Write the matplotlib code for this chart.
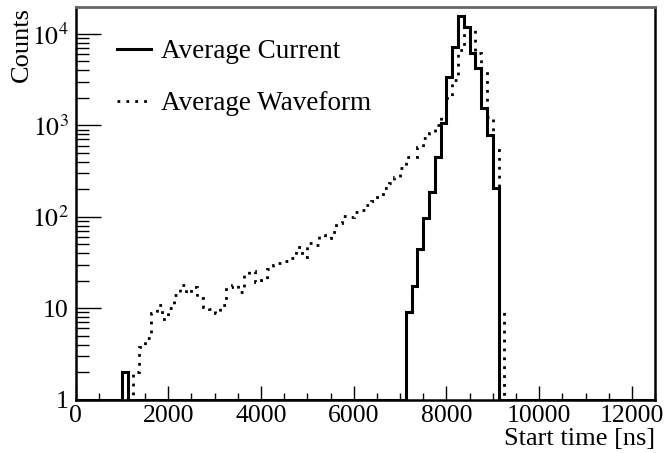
import numpy as np
import matplotlib
matplotlib.use('Agg')
import matplotlib.pyplot as plt
from matplotlib.ticker import FixedLocator, FixedFormatter, MultipleLocator

plt.rcParams['font.family'] = ['Liberation Serif', 'DejaVu Serif']
plt.rcParams['mathtext.fontset'] = 'stix'

# ── Histogram binning: 100 bins of 125 ns from 0 to 12500 ns ──────────
bin_width = 125
n_bins = 100

# ── Average Current (non-empty bins, lower edge in ns) ────────────────
current_t = [1000, 7125, 7250, 7375, 7500, 7625, 7750, 7875, 8000, 8125,
             8250, 8375, 8500, 8625, 8750, 8875, 9000]
current_n = [2, 9, 17.5, 44, 96, 188, 454, 1067, 3350, 7240,
             15700, 12000, 6130, 4200, 1535, 783, 204]

# ── Average Waveform (non-empty bins, lower edge in ns) ───────────────
wave_t = [1250, 1375, 1500, 1625, 1750, 1875, 2000, 2125, 2250, 2375,
          2500, 2625, 2750, 2875, 3000, 3125, 3250, 3375, 3500, 3625,
          3750, 3875, 4000, 4125, 4250, 4375, 4500, 4625, 4750, 4875,
          5000, 5125, 5250, 5375, 5500, 5625, 5750, 5875, 6000, 6125,
          6250, 6375, 6500, 6625, 6750, 6875, 7000, 7125, 7250, 7375,
          7500, 7625, 7750, 7875, 8000, 8125, 8250, 8375, 8500, 8625,
          8750, 8875, 9000, 9125]
wave_n = [2, 3.8, 4.7, 8.8, 10.8, 7.7, 10, 13.9, 17.9, 14.7,
          17.1, 12.8, 10.4, 9.7, 8.8, 10.8, 17, 17.9, 15, 23,
          25.7, 19.4, 20.3, 26.6, 29.6, 30.9, 32.7, 35, 47, 36.5,
          51, 49, 63, 58, 68.5, 86, 103, 100, 113, 120,
          135, 150, 166, 205, 232, 274, 339, 447, 454, 583,
          721, 817, 1007, 1297, 2000, 3130, 6650, 10500, 11000, 6130,
          4030, 1242, 537, 9]

xticks = [0, 2000, 4000, 6000, 8000, 10000, 12000]
yticks = [1, 10, 100, 1000, 10000]
ytick_labels = ['1', '10', r'$10^{2}$', r'$10^{3}$', r'$10^{4}$']

edges = np.arange(n_bins + 1) * bin_width
y_min, y_max = 1, 1.97e4


def fill(ts, ns):
    counts = np.zeros(n_bins)
    counts[(np.array(ts) // bin_width).astype(int)] = ns
    # empty bins sit on the bottom of the log axis, like ROOT draws them
    return np.where(counts > 0, counts, y_min)


current = fill(current_t, current_n)
wave = fill(wave_t, wave_n)

fig = plt.figure(figsize=(6.67, 4.53), dpi=100)
ax = fig.add_axes([0.1132, 0.118, 0.869, 0.8665])

ax.stairs(wave, edges, color='black', linewidth=2.0,
          linestyle=(0, (1.0, 2.2)), baseline=None, label='Average Waveform')
ax.stairs(current, edges, color='black', linewidth=2.2,
          baseline=None, label='Average Current')

ax.set_yscale('log')
ax.set_xlim(0, 12500)
ax.set_ylim(y_min, y_max)

ax.xaxis.set_major_locator(FixedLocator(xticks))
ax.xaxis.set_minor_locator(MultipleLocator(500))
ax.yaxis.set_major_locator(FixedLocator(yticks))
ax.yaxis.set_major_formatter(FixedFormatter(ytick_labels))
ax.yaxis.set_minor_locator(matplotlib.ticker.LogLocator(base=10, subs=np.arange(2, 10)))
ax.yaxis.set_minor_formatter(matplotlib.ticker.NullFormatter())

ax.tick_params(axis='both', which='both', direction='in', top=False, right=False,
               labelsize=18.5, colors='black')
ax.tick_params(axis='x', which='major', length=10, width=1.0, pad=4)
ax.tick_params(axis='x', which='minor', length=5, width=1.0)
ax.tick_params(axis='y', which='major', length=18, width=1.0, pad=5)
ax.tick_params(axis='y', which='minor', length=9, width=1.0)

for side in ('left', 'bottom', 'right'):
    ax.spines[side].set_linewidth(1.8)
    ax.spines[side].set_color('black')
ax.spines['top'].set_linewidth(2.0)
ax.spines['top'].set_color('#666666')

ax.set_xlabel('Start time [ns]', fontsize=19, loc='right', labelpad=1)
ax.set_ylabel('Counts', fontsize=19, loc='top', labelpad=-1)

handles, labels = ax.get_legend_handles_labels()
ax.legend(handles[::-1], labels[::-1], loc='upper left', bbox_to_anchor=(0.03, 0.98),
          frameon=False, fontsize=19.5, handlelength=1.25, handletextpad=0.35,
          labelspacing=1.0)

fig.savefig('out.png', dpi=100)
